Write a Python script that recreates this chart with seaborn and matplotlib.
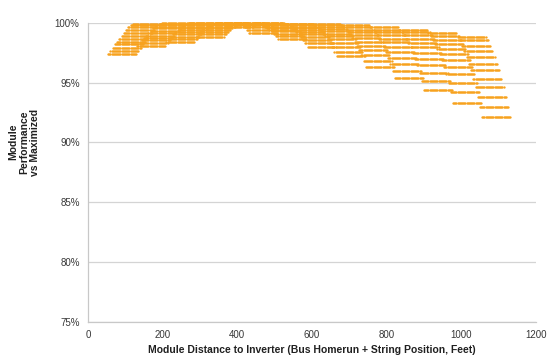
import numpy as np
import pandas as pd
import matplotlib
matplotlib.use("Agg")
import matplotlib.pyplot as plt
from matplotlib.ticker import FuncFormatter
import seaborn as sns

# ---- data ----
# bus homerun offsets (ft) for the 12 rows of each string group
home_runs = [0, 6, 12, 18, 24, 30, 36, 42, 48, 54, 60, 66]
# start of each string group along the bus (ft)
string_starts = [54, 132, 210, 288, 366, 444, 522, 600, 678, 756, 834, 912, 990]
# module positions inside one string (ft)
module_offsets = [0, 3, 6, 9, 12, 15, 18, 21, 24, 27, 30, 33, 36,
                  39, 42, 45, 48, 51, 54, 57, 60, 63, 66, 69, 72, 75]

# performance (%) per string group, one value per homerun row
perf_g0 = [97.4, 97.65, 97.9, 98.2, 98.45, 98.7, 98.9, 99.2, 99.45, 99.7, 99.85, 99.95]
perf_g1 = [98.1, 98.3, 98.55, 98.75, 98.95, 99.15, 99.35, 99.55, 99.7, 99.85, 99.95, 100.0]
perf_g2 = [98.45, 98.65, 98.85, 99.05, 99.25, 99.4, 99.55, 99.7, 99.82, 99.92, 99.98, 100.0]
perf_g3 = [98.85, 99.05, 99.25, 99.4, 99.55, 99.7, 99.8, 99.9, 99.95, 100.0, 100.0, 100.0]
perf_g4 = [99.65, 99.8, 99.9, 99.95, 100.0, 100.0, 99.95, 99.9, 99.8, 99.65, 99.45, 99.15]
perf_g5 = [100.0, 100.0, 99.95, 99.9, 99.8, 99.7, 99.6, 99.45, 99.3, 99.1, 98.9, 98.65]
perf_g6 = [99.95, 99.9, 99.8, 99.7, 99.55, 99.4, 99.25, 99.05, 98.85, 98.6, 98.3, 98.0]
perf_g7 = [99.9, 99.8, 99.65, 99.5, 99.3, 99.1, 98.9, 98.65, 98.35, 98.0, 97.6, 97.2]
perf_g8 = [99.8, 99.65, 99.45, 99.25, 99.0, 98.75, 98.45, 98.1, 97.75, 97.35, 96.85, 96.35]
perf_g9 = [99.65, 99.45, 99.25, 99.0, 98.7, 98.4, 98.0, 97.6, 97.1, 96.6, 96.0, 95.4]
perf_g10 = [99.45, 99.25, 99.0, 98.7, 98.35, 97.95, 97.5, 97.0, 96.45, 95.85, 95.15, 94.4]
perf_g11 = [99.2, 98.95, 98.6, 98.25, 97.85, 97.4, 96.9, 96.35, 95.7, 95.0, 94.2, 93.3]
perf_g12 = [98.85, 98.57, 98.1, 97.65, 97.15, 96.6, 96.05, 95.3, 94.6, 93.8, 93.0, 92.1]
perf_groups = [perf_g0, perf_g1, perf_g2, perf_g3, perf_g4, perf_g5, perf_g6,
               perf_g7, perf_g8, perf_g9, perf_g10, perf_g11, perf_g12]

x_ticks = [0, 200, 400, 600, 800, 1000, 1200]
y_ticks = [75, 80, 85, 90, 95, 100]

rows = []
for start, perfs in zip(string_starts, perf_groups):
    for hr, p in zip(home_runs, perfs):
        for m in module_offsets:
            rows.append({"dist": start + hr + m, "perf": p})
df = pd.DataFrame(rows)

# ---- plot ----
sns.set_style("white")
plt.rcParams["font.family"] = ["Liberation Sans", "DejaVu Sans"]

fig = plt.figure(figsize=(5.47, 3.56), dpi=100)
ax = fig.add_axes([88 / 547, 1 - 321.5 / 356, (536 - 88) / 547, (321.5 - 23) / 356])

ax.yaxis.grid(True, color="#D4D4D4", linewidth=0.9)
ax.set_axisbelow(True)

sns.scatterplot(data=df, x="dist", y="perf", ax=ax, color="#F7A21E",
                marker="o", s=2.8, linewidth=0, clip_on=False, zorder=3,
                legend=False)

ax.set_xlim(0, 1200)
ax.set_ylim(75, 100)
ax.set_xticks(x_ticks)
ax.set_yticks(y_ticks)
ax.yaxis.set_major_formatter(FuncFormatter(lambda v, _: f"{v:.0f}%"))

for side in ["top", "right"]:
    ax.spines[side].set_visible(False)
for side in ["left", "bottom"]:
    ax.spines[side].set_color("#C8C8C8")
    ax.spines[side].set_linewidth(0.9)

ax.tick_params(axis="both", which="major", labelsize=7, colors="#C8C8C8",
               labelcolor="#383838", length=3, width=0.8, direction="out")
ax.tick_params(axis="x", pad=3)
ax.tick_params(axis="y", pad=3)

ax.set_xlabel("Module Distance to Inverter (Bus Homerun + String Position, Feet)",
              fontsize=7.5, fontweight="bold", color="#202020", labelpad=4)
ax.set_ylabel("")
fig.text(24 / 547, 1 - 142 / 356, "Module\nPerformance\nvs Maximized",
         rotation=90, ha="center", va="center", multialignment="center",
         fontsize=7.5, fontweight="bold", color="#202020", linespacing=1.15)

fig.savefig("out.png", dpi=100)
